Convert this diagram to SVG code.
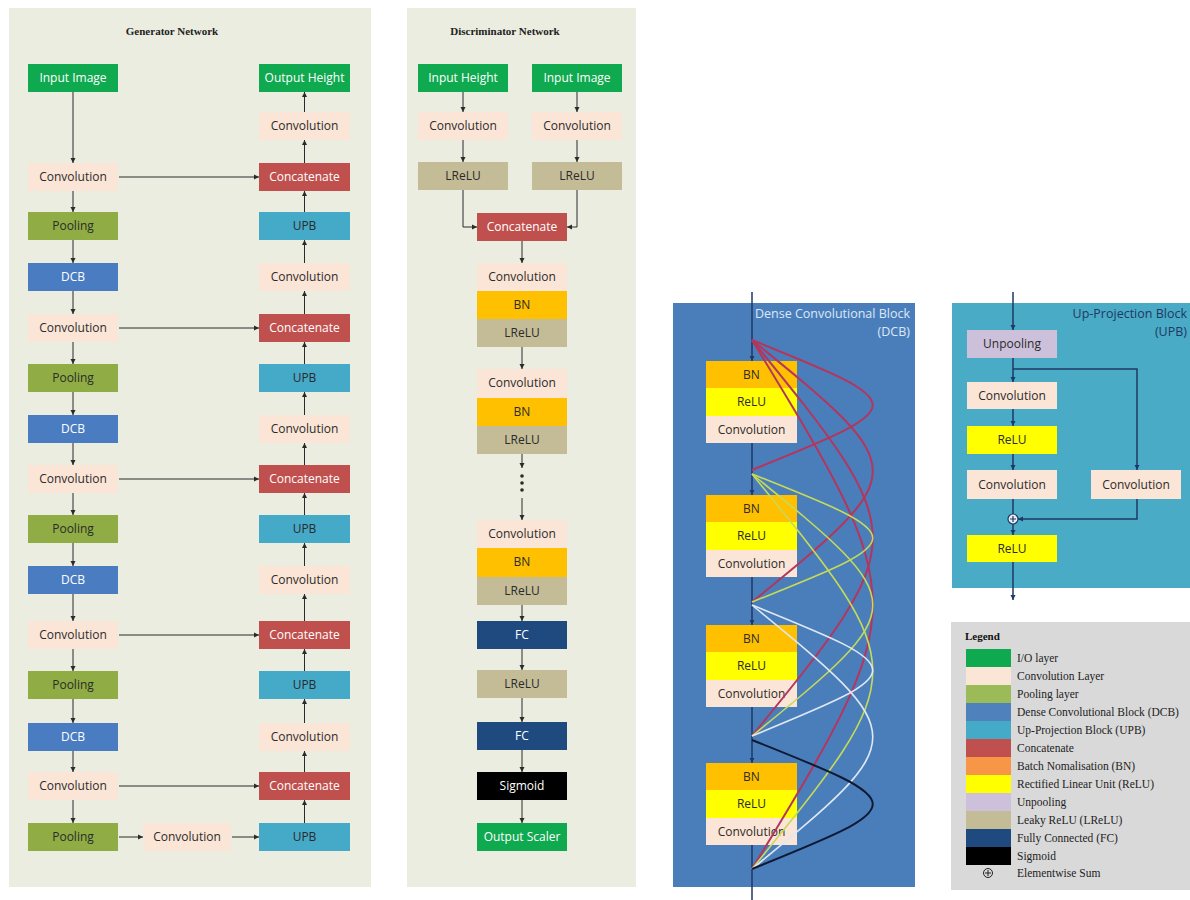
<svg xmlns="http://www.w3.org/2000/svg" width="1190" height="900" viewBox="0 0 1190 900">
<style>
.panel{fill:#eaede0}
.t{font-family:"Open Sans","Liberation Sans",sans-serif;font-size:12px;text-anchor:middle;fill:#2b2b2b}
.tw{fill:#ffffff}
.title{font-family:"Liberation Serif",serif;font-size:11px;font-weight:bold;text-anchor:middle;fill:#222}
.io{fill:#0fa94f}
.conv{fill:#fbe5d6}
.pool{fill:#8fad44}
.dcb{fill:#4a7cc2}
.upb{fill:#45a9c8}
.cat{fill:#c0504d}
.bn{fill:#ffc000}
.relu{fill:#ffff00}
.lrelu{fill:#c4bc97}
.fc{fill:#1f4a80}
.sig{fill:#000}
.unp{fill:#ccc0da}
.ln{fill:none;stroke:#2a2a2a;stroke-width:1;marker-end:url(#ah)}
.vl{fill:none;stroke:#1f3864;stroke-width:1.5}
.cr{fill:none;stroke:#b3365e;stroke-width:2}
.cg{fill:none;stroke:#c6da58;stroke-width:1.6}
.cw{fill:none;stroke:#dfe8f3;stroke-width:1.6}
.ck{fill:none;stroke:#0e1a33;stroke-width:2}
.lg{font-family:"Liberation Serif",serif;font-size:11.5px;fill:#222}
</style>
<defs>
<marker id="ah" markerWidth="6" markerHeight="6" refX="5" refY="3" orient="auto" markerUnits="userSpaceOnUse">
<path d="M0,0.5 L5,3 L0,5.5 z" fill="#2a2a2a"/>
</marker>
<marker id="ahb" markerWidth="6" markerHeight="6" refX="5" refY="3" orient="auto" markerUnits="userSpaceOnUse">
<path d="M0,0.5 L5,3 L0,5.5 z" fill="#1f3864"/>
</marker>
</defs>

<!-- Panels -->
<rect class="panel" x="9" y="8" width="362" height="879"/>
<rect class="panel" x="407" y="8" width="229" height="879"/>
<text class="title" x="172" y="35">Generator Network</text>
<text class="title" x="505" y="35">Discriminator Network</text>

<!-- Generator nodes: left column -->
<g id="g-input"><rect class="io" x="28" y="64" width="90" height="28"/><text class="t tw" x="73" y="82">Input Image</text></g>
<g id="g-c1"><rect class="conv" x="28" y="163" width="90" height="28"/><text class="t" x="73" y="181">Convolution</text></g>
<g id="g-p1"><rect class="pool" x="28" y="212" width="90" height="28"/><text class="t" x="73" y="230">Pooling</text></g>
<g id="g-d1"><rect class="dcb" x="28" y="263" width="90" height="28"/><text class="t tw" x="73" y="281">DCB</text></g>
<g id="g-c2"><rect class="conv" x="28" y="314" width="90" height="28"/><text class="t" x="73" y="332">Convolution</text></g>
<g id="g-p2"><rect class="pool" x="28" y="364" width="90" height="28"/><text class="t" x="73" y="382">Pooling</text></g>
<g id="g-d2"><rect class="dcb" x="28" y="415" width="90" height="28"/><text class="t tw" x="73" y="433">DCB</text></g>
<g id="g-c3"><rect class="conv" x="28" y="465" width="90" height="28"/><text class="t" x="73" y="483">Convolution</text></g>
<g id="g-p3"><rect class="pool" x="28" y="515" width="90" height="28"/><text class="t" x="73" y="533">Pooling</text></g>
<g id="g-d3"><rect class="dcb" x="28" y="566" width="90" height="28"/><text class="t tw" x="73" y="584">DCB</text></g>
<g id="g-c4"><rect class="conv" x="28" y="621" width="90" height="28"/><text class="t" x="73" y="639">Convolution</text></g>
<g id="g-p4"><rect class="pool" x="28" y="671" width="90" height="28"/><text class="t" x="73" y="689">Pooling</text></g>
<g id="g-d4"><rect class="dcb" x="28" y="723" width="90" height="28"/><text class="t tw" x="73" y="741">DCB</text></g>
<g id="g-c5"><rect class="conv" x="28" y="772" width="90" height="28"/><text class="t" x="73" y="790">Convolution</text></g>
<g id="g-p5"><rect class="pool" x="28" y="823" width="90" height="28"/><text class="t" x="73" y="841">Pooling</text></g>
<g id="g-cm"><rect class="conv" x="143" y="823" width="88" height="28"/><text class="t" x="187" y="841">Convolution</text></g>

<!-- Generator nodes: right column -->
<g id="g-out"><rect class="io" x="259" y="64" width="91" height="28"/><text class="t tw" x="304.5" y="82">Output Height</text></g>
<g id="g-rc1"><rect class="conv" x="259" y="112" width="91" height="28"/><text class="t" x="304.5" y="130">Convolution</text></g>
<g id="g-cat1"><rect class="cat" x="259" y="163" width="91" height="28"/><text class="t tw" x="304.5" y="181">Concatenate</text></g>
<g id="g-u1"><rect class="upb" x="259" y="212" width="91" height="28"/><text class="t" x="304.5" y="230">UPB</text></g>
<g id="g-rc2"><rect class="conv" x="259" y="263" width="91" height="28"/><text class="t" x="304.5" y="281">Convolution</text></g>
<g id="g-cat2"><rect class="cat" x="259" y="314" width="91" height="28"/><text class="t tw" x="304.5" y="332">Concatenate</text></g>
<g id="g-u2"><rect class="upb" x="259" y="364" width="91" height="28"/><text class="t" x="304.5" y="382">UPB</text></g>
<g id="g-rc3"><rect class="conv" x="259" y="415" width="91" height="28"/><text class="t" x="304.5" y="433">Convolution</text></g>
<g id="g-cat3"><rect class="cat" x="259" y="465" width="91" height="28"/><text class="t tw" x="304.5" y="483">Concatenate</text></g>
<g id="g-u3"><rect class="upb" x="259" y="515" width="91" height="28"/><text class="t" x="304.5" y="533">UPB</text></g>
<g id="g-rc4"><rect class="conv" x="259" y="566" width="91" height="28"/><text class="t" x="304.5" y="584">Convolution</text></g>
<g id="g-cat4"><rect class="cat" x="259" y="621" width="91" height="28"/><text class="t tw" x="304.5" y="639">Concatenate</text></g>
<g id="g-u4"><rect class="upb" x="259" y="671" width="91" height="28"/><text class="t" x="304.5" y="689">UPB</text></g>
<g id="g-rc5"><rect class="conv" x="259" y="723" width="91" height="28"/><text class="t" x="304.5" y="741">Convolution</text></g>
<g id="g-cat5"><rect class="cat" x="259" y="772" width="91" height="28"/><text class="t tw" x="304.5" y="790">Concatenate</text></g>
<g id="g-u5"><rect class="upb" x="259" y="823" width="91" height="28"/><text class="t" x="304.5" y="841">UPB</text></g>

<!-- Discriminator nodes -->
<g id="d-inh"><rect class="io" x="418" y="64" width="90" height="28"/><text class="t tw" x="463" y="82">Input Height</text></g>
<g id="d-ini"><rect class="io" x="532" y="64" width="90" height="28"/><text class="t tw" x="577" y="82">Input Image</text></g>
<g id="d-cl"><rect class="conv" x="418" y="112" width="90" height="28"/><text class="t" x="463" y="130">Convolution</text></g>
<g id="d-cr"><rect class="conv" x="532" y="112" width="90" height="28"/><text class="t" x="577" y="130">Convolution</text></g>
<g id="d-ll"><rect class="lrelu" x="418" y="162" width="90" height="28"/><text class="t" x="463" y="180">LReLU</text></g>
<g id="d-lr"><rect class="lrelu" x="532" y="162" width="90" height="28"/><text class="t" x="577" y="180">LReLU</text></g>
<g id="d-cat"><rect class="cat" x="477" y="213" width="90" height="28"/><text class="t tw" x="522" y="231">Concatenate</text></g>
<g id="d-b1">
<rect class="conv" x="477" y="263" width="90" height="28"/><text class="t" x="522" y="281">Convolution</text>
<rect class="bn" x="477" y="291" width="90" height="28"/><text class="t" x="522" y="309">BN</text>
<rect class="lrelu" x="477" y="319" width="90" height="28"/><text class="t" x="522" y="337">LReLU</text>
</g>
<g id="d-b2">
<rect class="conv" x="477" y="369" width="90" height="29"/><text class="t" x="522" y="387">Convolution</text>
<rect class="bn" x="477" y="398" width="90" height="28"/><text class="t" x="522" y="416">BN</text>
<rect class="lrelu" x="477" y="426" width="90" height="28"/><text class="t" x="522" y="444">LReLU</text>
</g>
<g id="d-b3">
<rect class="conv" x="477" y="520" width="90" height="28"/><text class="t" x="522" y="538">Convolution</text>
<rect class="bn" x="477" y="548" width="90" height="29"/><text class="t" x="522" y="566">BN</text>
<rect class="lrelu" x="477" y="577" width="90" height="28"/><text class="t" x="522" y="595">LReLU</text>
</g>
<g id="d-fc1"><rect class="fc" x="477" y="621" width="90" height="28"/><text class="t tw" x="522" y="639">FC</text></g>
<g id="d-lr2"><rect class="lrelu" x="477" y="670" width="90" height="28"/><text class="t" x="522" y="688">LReLU</text></g>
<g id="d-fc2"><rect class="fc" x="477" y="722" width="90" height="28"/><text class="t tw" x="522" y="740">FC</text></g>
<g id="d-sig"><rect class="sig" x="477" y="772" width="90" height="28"/><text class="t tw" x="522" y="790">Sigmoid</text></g>
<g id="d-out"><rect class="io" x="477" y="823" width="90" height="28"/><text class="t tw" x="522" y="841">Output Scaler</text></g>

<!-- Connectors (generator + discriminator) -->
<g id="connectors">
<path class="ln" d="M73 92V163"/><path class="ln" d="M73 191V212"/><path class="ln" d="M73 240V263"/>
<path class="ln" d="M73 291V314"/><path class="ln" d="M73 342V364"/><path class="ln" d="M73 392V415"/>
<path class="ln" d="M73 443V465"/><path class="ln" d="M73 493V515"/><path class="ln" d="M73 543V566"/>
<path class="ln" d="M73 594V621"/><path class="ln" d="M73 649V671"/><path class="ln" d="M73 699V723"/>
<path class="ln" d="M73 751V772"/><path class="ln" d="M73 800V823"/>
<path class="ln" d="M304.5 823V800"/><path class="ln" d="M304.5 772V751"/><path class="ln" d="M304.5 723V699"/>
<path class="ln" d="M304.5 671V649"/><path class="ln" d="M304.5 621V594"/><path class="ln" d="M304.5 566V543"/>
<path class="ln" d="M304.5 515V493"/><path class="ln" d="M304.5 465V443"/><path class="ln" d="M304.5 415V392"/>
<path class="ln" d="M304.5 364V342"/><path class="ln" d="M304.5 314V291"/><path class="ln" d="M304.5 263V240"/>
<path class="ln" d="M304.5 212V191"/><path class="ln" d="M304.5 163V140"/><path class="ln" d="M304.5 112V92"/>
<path class="ln" d="M119 177H259"/><path class="ln" d="M119 328H259"/><path class="ln" d="M119 479H259"/>
<path class="ln" d="M119 635H259"/><path class="ln" d="M119 786H259"/>
<path class="ln" d="M119 837H143"/><path class="ln" d="M232 837H259"/>

<path class="ln" d="M463 92V112"/><path class="ln" d="M577 92V112"/>
<path class="ln" d="M463 140V162"/><path class="ln" d="M577 140V162"/>
<path class="ln" d="M463 190V227H477"/><path class="ln" d="M577 190V227H567"/>
<path class="ln" d="M522 241V263"/><path class="ln" d="M522 347V369"/>
<path class="ln" d="M522 454V468"/>
<circle cx="522" cy="476" r="1.8" fill="#2a2a2a"/><circle cx="522" cy="483" r="1.8" fill="#2a2a2a"/><circle cx="522" cy="490" r="1.8" fill="#2a2a2a"/>
<path class="ln" d="M522 498V520"/>
<path class="ln" d="M522 605V621"/><path class="ln" d="M522 649V670"/><path class="ln" d="M522 698V722"/>
<path class="ln" d="M522 750V772"/><path class="ln" d="M522 800V823"/>
</g>

<!-- Dense Convolutional Block detail -->
<g id="dcb-panel">
<rect x="673" y="303" width="242" height="584" fill="#4a7ebb"/>
<text x="910" y="318" font-family="'Open Sans','Liberation Sans',sans-serif" font-size="12.5" text-anchor="end" fill="#dde8f6">Dense Convolutional Block</text>
<text x="910" y="336" font-family="'Open Sans','Liberation Sans',sans-serif" font-size="12.5" text-anchor="end" fill="#dde8f6">(DCB)</text>
</g>
<g id="dcb-line">
<path class="vl" d="M752 292V361" marker-end="url(#ahb)"/>
<path class="vl" d="M752 443V495" marker-end="url(#ahb)"/>
<path class="vl" d="M752 577V625" marker-end="url(#ahb)"/>
<path class="vl" d="M752 707V763" marker-end="url(#ahb)"/>
<path class="vl" d="M752 845V900"/>
</g>
<g id="dcb-1">
<rect class="bn" x="706" y="361" width="91" height="27"/><text class="t" x="751.5" y="379">BN</text>
<rect class="relu" x="706" y="388" width="91" height="28"/><text class="t" x="751.5" y="406">ReLU</text>
<rect class="conv" x="706" y="416" width="91" height="27"/><text class="t" x="751.5" y="434">Convolution</text>
</g>
<g id="dcb-2">
<rect class="bn" x="706" y="495" width="91" height="27"/><text class="t" x="751.5" y="513">BN</text>
<rect class="relu" x="706" y="522" width="91" height="28"/><text class="t" x="751.5" y="540">ReLU</text>
<rect class="conv" x="706" y="550" width="91" height="27"/><text class="t" x="751.5" y="568">Convolution</text>
</g>
<g id="dcb-3">
<rect class="bn" x="706" y="625" width="91" height="27"/><text class="t" x="751.5" y="643">BN</text>
<rect class="relu" x="706" y="652" width="91" height="28"/><text class="t" x="751.5" y="670">ReLU</text>
<rect class="conv" x="706" y="680" width="91" height="27"/><text class="t" x="751.5" y="698">Convolution</text>
</g>
<g id="dcb-4">
<rect class="bn" x="706" y="763" width="91" height="27"/><text class="t" x="751.5" y="781">BN</text>
<rect class="relu" x="706" y="790" width="91" height="28"/><text class="t" x="751.5" y="808">ReLU</text>
<rect class="conv" x="706" y="818" width="91" height="27"/><text class="t" x="751.5" y="836">Convolution</text>
</g>
<g id="dcb-skips">
<path class="cr" d="M752 340C913 405 913 405 752 470"/>
<path class="cr" d="M752 340C913 471 913 471 752 602"/>
<path class="cr" d="M752 340C913 538 913 538 752 736"/>
<path class="cr" d="M752 340C913 604 913 604 752 869"/>
<path class="cg" d="M752 474C913 538 913 538 752 602"/>
<path class="cg" d="M752 474C913 605 913 605 752 736"/>
<path class="cg" d="M752 474C913 671 913 671 752 869"/>
<path class="cw" d="M752 605C913 670 913 670 752 736"/>
<path class="cw" d="M752 605C913 737 913 737 752 869"/>
<path class="ck" d="M752 740C913 804 913 804 752 869"/>
</g>

<!-- Up-Projection Block detail -->
<g id="upb-panel">
<rect x="952" y="303" width="238" height="285" fill="#4aabc6"/>
<text x="1187" y="318" font-family="'Open Sans','Liberation Sans',sans-serif" font-size="12.5" text-anchor="end" fill="#1f3864">Up-Projection Block</text>
<text x="1187" y="336" font-family="'Open Sans','Liberation Sans',sans-serif" font-size="12.5" text-anchor="end" fill="#1f3864">(UPB)</text>
</g>
<g id="upb-lines">
<path class="vl" d="M1013 292V330" marker-end="url(#ahb)"/>
<path class="vl" d="M1013 358V382" marker-end="url(#ahb)"/>
<path class="vl" d="M1013 409V426" marker-end="url(#ahb)"/>
<path class="vl" d="M1013 454V470" marker-end="url(#ahb)"/>
<path class="vl" d="M1013 499V514"/>
<path class="vl" d="M1013 524V535" marker-end="url(#ahb)"/>
<path class="vl" d="M1013 562V600" marker-end="url(#ahb)"/>
<path class="vl" d="M1013 369H1137V470" marker-end="url(#ahb)"/>
<path class="vl" d="M1137 499V519H1018" marker-end="url(#ahb)"/>
</g>
<g id="upb-unpool"><rect class="unp" x="967" y="330" width="90" height="28"/><text class="t" x="1012" y="348">Unpooling</text></g>
<g id="upb-conv1"><rect class="conv" x="967" y="382" width="90" height="27"/><text class="t" x="1012" y="400">Convolution</text></g>
<g id="upb-relu1"><rect class="relu" x="967" y="426" width="90" height="28"/><text class="t" x="1012" y="444">ReLU</text></g>
<g id="upb-conv2"><rect class="conv" x="967" y="470" width="90" height="29"/><text class="t" x="1012" y="489">Convolution</text></g>
<g id="upb-conv3"><rect class="conv" x="1091" y="470" width="90" height="29"/><text class="t" x="1136" y="489">Convolution</text></g>
<g id="upb-sum"><circle cx="1013" cy="519" r="5" fill="#e8eef5" stroke="#1f3864" stroke-width="1.2"/><path d="M1010 519H1016M1013 516V522" stroke="#1f3864" stroke-width="1.2"/></g>
<g id="upb-relu2"><rect class="relu" x="967" y="535" width="90" height="27"/><text class="t" x="1012" y="553">ReLU</text></g>

<!-- Legend -->
<g id="legend">
<rect x="951" y="622" width="239" height="268" fill="#d9d9d9"/>
<text x="965" y="640" font-family="'Liberation Serif',serif" font-size="11" font-weight="bold" fill="#111">Legend</text>
<rect class="io" x="966" y="649" width="45" height="18"/><text class="lg" x="1017" y="662">I/O layer</text>
<rect class="conv" x="966" y="667" width="45" height="18"/><text class="lg" x="1017" y="680">Convolution Layer</text>
<rect x="966" y="685" width="45" height="18" fill="#9bbb59"/><text class="lg" x="1017" y="698">Pooling layer</text>
<rect x="966" y="703" width="45" height="18" fill="#4f81bd"/><text class="lg" x="1017" y="716">Dense Convolutional Block (DCB)</text>
<rect class="upb" x="966" y="721" width="45" height="18"/><text class="lg" x="1017" y="734">Up-Projection Block (UPB)</text>
<rect class="cat" x="966" y="739" width="45" height="18"/><text class="lg" x="1017" y="752">Concatenate</text>
<rect x="966" y="757" width="45" height="18" fill="#f79646"/><text class="lg" x="1017" y="770">Batch Nomalisation (BN)</text>
<rect class="relu" x="966" y="775" width="45" height="18"/><text class="lg" x="1017" y="788">Rectified Linear Unit (ReLU)</text>
<rect class="unp" x="966" y="793" width="45" height="18"/><text class="lg" x="1017" y="806">Unpooling</text>
<rect class="lrelu" x="966" y="811" width="45" height="18"/><text class="lg" x="1017" y="824">Leaky ReLU (LReLU)</text>
<rect class="fc" x="966" y="829" width="45" height="18"/><text class="lg" x="1017" y="842">Fully Connected (FC)</text>
<rect class="sig" x="966" y="847" width="45" height="18"/><text class="lg" x="1017" y="860">Sigmoid</text>
<circle cx="988" cy="873" r="4.5" fill="none" stroke="#222" stroke-width="1"/><path d="M985 873H991M988 870V876" stroke="#222" stroke-width="1"/>
<text class="lg" x="1017" y="877">Elementwise Sum</text>
</g>
</svg>
